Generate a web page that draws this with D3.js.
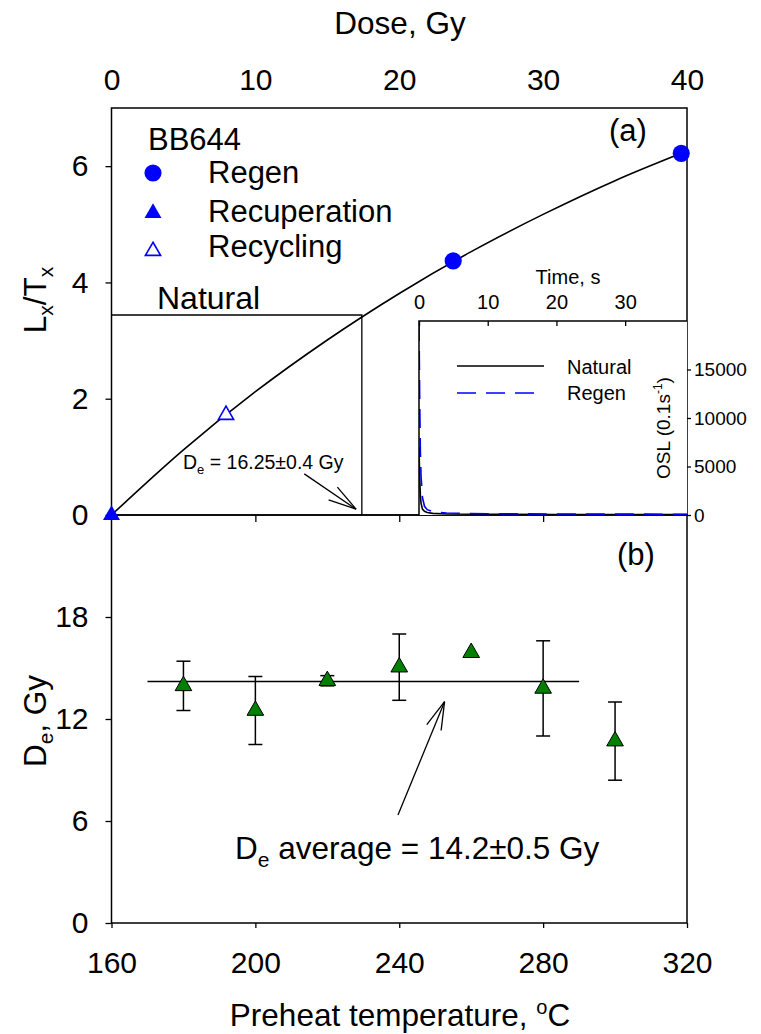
<!DOCTYPE html>
<html>
<head>
<meta charset="utf-8">
<script src="https://cdn.jsdelivr.net/npm/d3@7"></script>
<style>
  body { margin: 0; background: #fff; }
  svg { display: block; }
</style>
</head>
<body>
<svg id="chart" width="761" height="1034"></svg>
<script>
// panel (a): dose response of BB644
const regenDose = [23.75, 39.6];
const regenLxTx = [4.37, 6.22];
const recupDose = [0];
const recupLxTx = [0];
const recycDose = [7.96];
const recycLxTx = [1.72];
const fitDose = [0, 5, 10, 15, 20, 25, 30, 35, 39.6];
const fitLxTx = [0, 1.12, 2.12, 3.01, 3.81, 4.53, 5.17, 5.75, 6.22];
const naturalLxTx = 3.44;
const naturalDose = 17.4;
const doseTicks = [0, 10, 20, 30, 40];
const lxTicks = [0, 2, 4, 6];

// inset: OSL decay curves
const oslTime = [0, 0.1, 0.2, 0.3, 0.5, 0.8, 1.2, 2, 4, 10, 20, 39];
const oslNatural = [7000, 3800, 2000, 1200, 600, 380, 260, 170, 110, 70, 50, 40];
const oslRegen = [19900, 12000, 6500, 4000, 1800, 900, 550, 340, 200, 130, 100, 80];
const timeTicks = [0, 10, 20, 30];
const oslTicks = [0, 5000, 10000, 15000];

// panel (b): preheat plateau
const preheat = [180, 200, 220, 240, 260, 280, 300];
const de = [13.95, 12.5, 14.25, 15.05, 15.9, 13.8, 10.7];
const deErr = [1.45, 2.0, 0.3, 1.95, 0, 2.8, 2.3];
const deAvg = 14.2;
const avgRange = [170, 290];
const tempTicks = [160, 200, 240, 280, 320];
const deTicks = [0, 6, 12, 18];

const font = '"Liberation Sans", Arial, sans-serif';
const blue = '#0000ff';
const green = '#008000';
const tickFont = 30, titleFont = 31.5;

const svg = d3.select('#chart').attr('font-family', font);
svg.append('rect').attr('width', 761).attr('height', 1034).attr('fill', '#fff');

const left = 111.5, right = 687;
const topA = 108, baseA = 515, baseB = 923;
const insetLeft = 419, insetTop = 321;

const x = d3.scaleLinear().domain([0, 40]).range([left, right]);
const y = d3.scaleLinear().domain([0, 7]).range([baseA, topA]);
const xT = d3.scaleLinear().domain([160, 320]).range([left, right]);
const yB = d3.scaleLinear().domain([0, 24]).range([baseB, baseA]);
const xs = d3.scaleLinear().domain([0, 39]).range([insetLeft, right]);
const ys = d3.scaleLinear().domain([0, 20000]).range([baseA, insetTop]);

function styleAxis(g, size) {
  g.attr('font-family', font).attr('font-size', size);
  g.select('.domain').remove();
  g.selectAll('line').attr('stroke', '#000').attr('stroke-width', 1.3);
  g.selectAll('text').attr('fill', '#000');
}

//frames
svg.append('rect').attr('x', left).attr('y', topA).attr('width', right - left).attr('height', baseA - topA)
  .attr('fill', 'none').attr('stroke', '#000').attr('stroke-width', 1.5);
svg.append('rect').attr('x', left).attr('y', baseA).attr('width', right - left).attr('height', baseB - baseA)
  .attr('fill', 'none').attr('stroke', '#000').attr('stroke-width', 1.5);

//axes of panel (a)
svg.append('g').attr('transform', `translate(0,${topA})`)
  .call(d3.axisTop(x).tickValues(doseTicks).tickSize(0).tickPadding(18))
  .call(g => styleAxis(g, tickFont));
svg.append('g').attr('transform', `translate(0,${baseA})`)
  .call(d3.axisBottom(x).tickValues([10, 20, 30]).tickSize(7).tickFormat(''))
  .call(g => styleAxis(g, tickFont));
svg.append('g').attr('transform', `translate(${left},0)`)
  .call(d3.axisLeft(y).tickValues(lxTicks).tickFormat(d3.format('d')).tickSize(6).tickPadding(17))
  .call(g => styleAxis(g, tickFont));

svg.append('text').attr('x', 400).attr('y', 34).attr('text-anchor', 'middle')
  .attr('font-size', titleFont).text('Dose, Gy');

const yLabA = svg.append('text').attr('transform', 'translate(46,300) rotate(-90)')
  .attr('text-anchor', 'middle').attr('font-size', titleFont);
yLabA.append('tspan').text('L');
yLabA.append('tspan').attr('font-size', 21).attr('dy', 7).text('x');
yLabA.append('tspan').attr('dy', -7).text('/T');
yLabA.append('tspan').attr('font-size', 21).attr('dy', 7).text('x');

//natural signal and De construction
svg.append('path')
  .attr('d', d3.line()([[x(0), y(naturalLxTx)], [x(naturalDose), y(naturalLxTx)], [x(naturalDose), y(0)]]))
  .attr('fill', 'none').attr('stroke', '#000').attr('stroke-width', 1.3);
svg.append('text').attr('x', 157).attr('y', 309).attr('font-size', 32).text('Natural');

//fitted growth curve
svg.append('path')
  .datum(fitDose.map((d, i) => [d, fitLxTx[i]]))
  .attr('d', d3.line().x(d => x(d[0])).y(d => y(d[1])).curve(d3.curveMonotoneX))
  .attr('fill', 'none').attr('stroke', '#000').attr('stroke-width', 1.6);

//arrows
function arrow(x0, y0, x1, y1) {
  const a = Math.atan2(y0 - y1, x0 - x1);
  const len = 29, spread = 15.5 * Math.PI / 180;
  const g = svg.append('g').attr('stroke', '#000').attr('stroke-width', 1.3).attr('fill', 'none');
  g.append('line').attr('x1', x0).attr('y1', y0).attr('x2', x1).attr('y2', y1);
  [a - spread, a + spread].forEach(b => {
    g.append('line').attr('x1', x1).attr('y1', y1)
      .attr('x2', x1 + len * Math.cos(b)).attr('y2', y1 + len * Math.sin(b));
  });
}
arrow(x(13.4), y(0.707), x(17.0), y(0.1));

const deLab = svg.append('text').attr('x', 183).attr('y', 469).attr('font-size', 19.5);
deLab.append('tspan').text('D');
deLab.append('tspan').attr('font-size', 13).attr('dy', 5).text('e');
deLab.append('tspan').attr('dy', -5).text(' = 16.25±0.4 Gy');

//inset
const inset = svg.append('g');
inset.append('clipPath').attr('id', 'insetClip')
  .append('rect').attr('x', insetLeft).attr('y', insetTop).attr('width', right - insetLeft).attr('height', baseA - insetTop);
inset.append('rect').attr('x', insetLeft).attr('y', insetTop).attr('width', right - insetLeft).attr('height', baseA - insetTop)
  .attr('fill', '#fff');

const oslLine = d3.line().x((d, i) => xs(oslTime[i])).y(d => ys(d));
inset.append('path').datum(oslNatural).attr('d', oslLine).attr('clip-path', 'url(#insetClip)')
  .attr('fill', 'none').attr('stroke', '#000').attr('stroke-width', 1.6);
inset.append('path').datum(oslRegen).attr('d', oslLine).attr('clip-path', 'url(#insetClip)')
  .attr('fill', 'none').attr('stroke', blue).attr('stroke-width', 1.6).attr('stroke-dasharray', '19,10');

inset.append('path')
  .attr('d', d3.line()([[insetLeft, baseA], [insetLeft, insetTop], [right, insetTop]]))
  .attr('fill', 'none').attr('stroke', '#000').attr('stroke-width', 1.5);
inset.append('g').attr('transform', `translate(0,${insetTop})`)
  .call(d3.axisTop(xs).tickValues(timeTicks).tickSize(-5).tickPadding(12))
  .call(g => styleAxis(g, 20));
inset.append('g').attr('transform', `translate(${right},0)`)
  .call(d3.axisRight(ys).tickValues(oslTicks).tickFormat(d3.format('d')).tickSize(4).tickPadding(3))
  .call(g => styleAxis(g, 19));
inset.append('text').attr('x', 568).attr('y', 284).attr('text-anchor', 'middle')
  .attr('font-size', 20).text('Time, s');

const oslLab = inset.append('text').attr('transform', 'translate(670,428) rotate(-90)')
  .attr('text-anchor', 'middle').attr('font-size', 19);
oslLab.append('tspan').text('OSL (0.1s');
oslLab.append('tspan').attr('font-size', 12).attr('dy', -8).text('-1');
oslLab.append('tspan').attr('dy', 8).text(')');

//inset legend
inset.append('line').attr('x1', 457).attr('x2', 544).attr('y1', 366).attr('y2', 366)
  .attr('stroke', '#000').attr('stroke-width', 1.5);
inset.append('line').attr('x1', 457).attr('x2', 537).attr('y1', 393).attr('y2', 393)
  .attr('stroke', blue).attr('stroke-width', 1.5).attr('stroke-dasharray', '19,10');
inset.append('text').attr('x', 567).attr('y', 374).attr('font-size', 20).text('Natural');
inset.append('text').attr('x', 567).attr('y', 400).attr('font-size', 20).text('Regen');

//data markers of panel (a)
const circle = d3.symbol().type(d3.symbolCircle).size(230);
const triFilled = d3.symbol().type(d3.symbolTriangle).size(125);
const triOpen = d3.symbol().type(d3.symbolTriangle).size(100);

svg.append('g').selectAll('path').data(regenDose).join('path')
  .attr('transform', (d, i) => `translate(${x(d)},${y(regenLxTx[i])})`)
  .attr('d', circle).attr('fill', blue);
svg.append('g').selectAll('path').data(recupDose).join('path')
  .attr('transform', (d, i) => `translate(${x(d)},${y(recupLxTx[i])})`)
  .attr('d', triFilled).attr('fill', blue);
svg.append('g').selectAll('path').data(recycDose).join('path')
  .attr('transform', (d, i) => `translate(${x(d)},${y(recycLxTx[i])})`)
  .attr('d', triOpen).attr('fill', '#fff').attr('stroke', blue).attr('stroke-width', 1.6);

//legend of panel (a)
svg.append('text').attr('x', 148).attr('y', 150).attr('font-size', 31).text('BB644');
const legend = [
  { label: 'Regen', sym: circle, fill: blue, stroke: 'none', cy: 173, ty: 183 },
  { label: 'Recuperation', sym: triFilled, fill: blue, stroke: 'none', cy: 213, ty: 222 },
  { label: 'Recycling', sym: triOpen, fill: '#fff', stroke: blue, cy: 251, ty: 257 }
];
legend.forEach(l => {
  svg.append('path').attr('transform', `translate(153,${l.cy})`).attr('d', l.sym)
    .attr('fill', l.fill).attr('stroke', l.stroke).attr('stroke-width', 1.6);
  svg.append('text').attr('x', 208).attr('y', l.ty).attr('font-size', 31).text(l.label);
});
svg.append('text').attr('x', 628).attr('y', 141).attr('text-anchor', 'middle').attr('font-size', 31).text('(a)');

//panel (b)
svg.append('g').attr('transform', `translate(0,${baseB})`)
  .call(d3.axisBottom(xT).tickValues(tempTicks).tickSize(5).tickPadding(24))
  .call(g => styleAxis(g, tickFont));
svg.append('g').attr('transform', `translate(${left},0)`)
  .call(d3.axisLeft(yB).tickValues(deTicks).tickSize(6).tickPadding(17))
  .call(g => styleAxis(g, tickFont));

svg.append('line').attr('x1', xT(avgRange[0])).attr('x2', xT(avgRange[1]))
  .attr('y1', yB(deAvg)).attr('y2', yB(deAvg)).attr('stroke', '#000').attr('stroke-width', 1.5);

const bars = svg.append('g').attr('stroke', '#000').attr('stroke-width', 1.5);
preheat.forEach((t, i) => {
  if (deErr[i] === 0) return;
  const cx = xT(t), lo = yB(de[i] - deErr[i]), hi = yB(de[i] + deErr[i]);
  bars.append('line').attr('x1', cx).attr('x2', cx).attr('y1', lo).attr('y2', hi);
  bars.append('line').attr('x1', cx - 7).attr('x2', cx + 7).attr('y1', lo).attr('y2', lo);
  bars.append('line').attr('x1', cx - 7).attr('x2', cx + 7).attr('y1', hi).attr('y2', hi);
});
svg.append('g').selectAll('path').data(preheat).join('path')
  .attr('transform', (d, i) => `translate(${xT(d)},${yB(de[i])})`)
  .attr('d', d3.symbol().type(d3.symbolTriangle).size(120))
  .attr('fill', green).attr('stroke', '#000').attr('stroke-width', 1);

arrow(xT(239.65), yB(6.35), xT(252.6), yB(13.02));

const avgLab = svg.append('text').attr('x', 235).attr('y', 859).attr('font-size', titleFont);
avgLab.append('tspan').text('D');
avgLab.append('tspan').attr('font-size', 21).attr('dy', 8).text('e');
avgLab.append('tspan').attr('dy', -8).text(' average = 14.2±0.5 Gy');

svg.append('text').attr('x', 636).attr('y', 565).attr('text-anchor', 'middle').attr('font-size', 31).text('(b)');

const yLabB = svg.append('text').attr('transform', 'translate(46,721) rotate(-90)')
  .attr('text-anchor', 'middle').attr('font-size', titleFont);
yLabB.append('tspan').text('D');
yLabB.append('tspan').attr('font-size', 21).attr('dy', 7).text('e');
yLabB.append('tspan').attr('dy', -7).text(', Gy');

const xLabB = svg.append('text').attr('x', 400).attr('y', 1026).attr('text-anchor', 'middle').attr('font-size', titleFont);
xLabB.append('tspan').text('Preheat temperature, ');
xLabB.append('tspan').attr('font-size', 20).attr('dy', -12).text('o');
xLabB.append('tspan').attr('dy', 12).text('C');
</script>
</body>
</html>
